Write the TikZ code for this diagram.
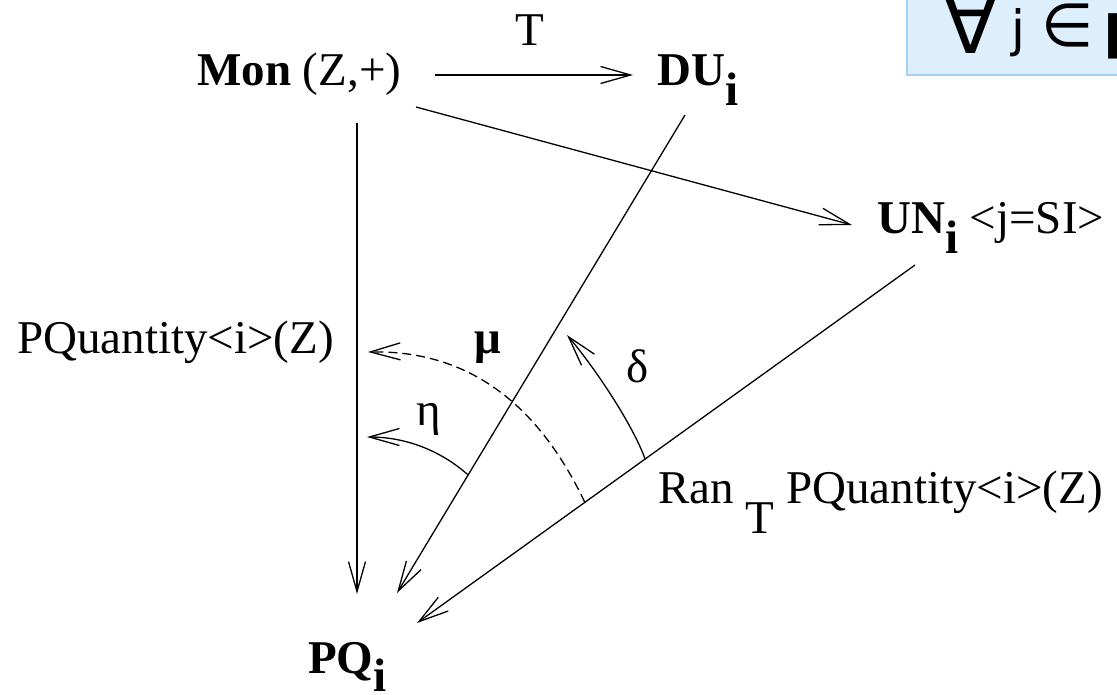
\documentclass[tikz,border=0pt]{standalone}
\usepackage{fontspec}
\setmainfont{Liberation Serif}
\newfontfamily\boxfont{DejaVu Sans}
\usetikzlibrary{arrows.meta,calc}
\definecolor{boxfill}{HTML}{DDEEFC}
\definecolor{boxedge}{HTML}{A3D2F5}
\begin{document}
\begin{tikzpicture}[x=1pt,y=-1pt,
  lbl/.style={inner sep=0pt, anchor=base west, font=\fontsize{47}{56}\selectfont},
  glab/.style={inner sep=0pt, anchor=base, font=\fontsize{47}{56}\selectfont},
  boxtext/.style={inner sep=0pt, anchor=base west, font=\boxfont\fontsize{60}{64}\selectfont},
  conn/.style={line width=1.3pt},
  arr/.style={conn, -{Straight Barb[length=30pt,width=17pt]}},
  dasharr/.style={arr, dash pattern=on 9pt off 5pt}]
\useasboundingbox (0,0) rectangle (1117,694);
\clip (0,0) rectangle (1117,694);
% hint box
\fill[boxfill] (907,-10) rectangle (1130,75);
\draw[boxedge, line width=2.5pt] (1130,75) -- (907,75) -- (907,-10);
\node[boxtext] (hint) at (943,46) {\makebox[68pt][l]{\raisebox{-7pt}{\fontsize{80}{84}\selectfont ∀}}\makebox[30pt][l]{\fontsize{50}{56}\selectfont j}\makebox[62pt][l]{∈}\textbf{μ}};
% objects
\node[lbl] (mon) at (197,85) {\textbf{Mon} (Z,+)};
\node[lbl] (du) at (657,85) {\textbf{DU}\raisebox{-20pt}{\textbf{i}}};
\node[lbl] (un) at (877,233) {\textbf{UN}\raisebox{-20pt}{\textbf{i}} <j=SI>};
\node[lbl] (pq) at (308,673) {\textbf{PQ}\raisebox{-18pt}{\textbf{i}}};
\node[lbl] (pqz) at (17,353) {PQuantity<i>(Z)};
\node[lbl] (ran) at (658,503) {Ran \raisebox{-30pt}{T} PQuantity<i>(Z)};
% labels
\node[glab] (tlab) at (530,45) {T};
\node[glab] (mulab) at (488,353) {\textbf{μ}};
\node[glab] (etalab) at (429,425) {η};
\node[glab] (deltalab) at (638,382) {δ};
% connectors
\draw[arr] ($(mon.base west)+(238,-10)$) -- ($(du.base west)+(-24,-10)$);
\draw[arr] ($(mon.base west)+(219,22)$) -- ($(un.base west)+(-25,-8)$);
\draw[arr] ($(mon.base west)+(160,38)$) -- ($(pq.base west)+(49,-79)$);
\draw[arr] ($(du.base west)+(28,30)$) -- coordinate[pos=0.753] (etaS) ($(pq.base west)+(89,-80)$);
\draw[arr] ($(un.base west)+(38,32)$) -- coordinate[pos=0.663] (muS) coordinate[pos=0.542] (deS) ($(pq.base west)+(109,-50)$);
% 2-cells
\coordinate (muT) at ($(pqz.base west)+(351,-1)$);
\coordinate (etaT) at ($(pqz.base west)+(350,84)$);
\coordinate (deT) at (567,335);
\draw[dasharr] (muS) .. controls (540,408) and (472,350) .. (muT);
\draw[arr] (etaS) .. controls (440,450) and (405,437) .. (etaT);
\draw[arr] (deS) .. controls (633,425) and (595,368) .. (deT);
\end{tikzpicture}
\end{document}
